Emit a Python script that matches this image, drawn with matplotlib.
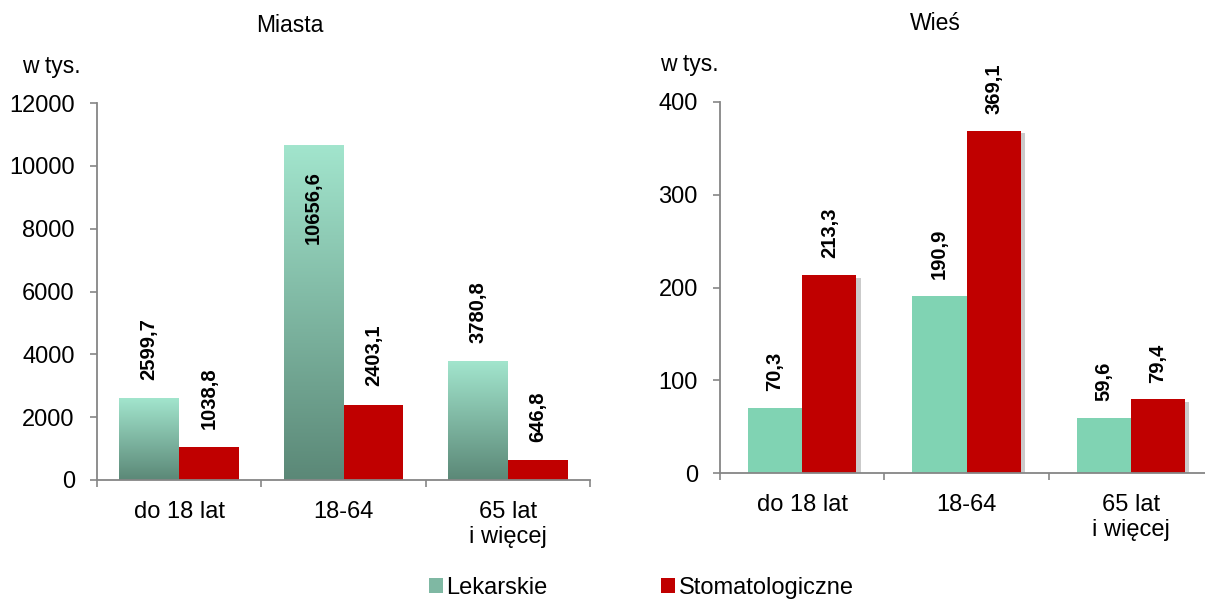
import numpy as np
import matplotlib
matplotlib.use("Agg")
import matplotlib.pyplot as plt
from matplotlib.colors import LinearSegmentedColormap
from matplotlib.patches import Patch
import matplotlib.patheffects as pe

plt.rcParams['font.family'] = ['Liberation Sans', 'DejaVu Sans']

categories = ["do 18 lat", "18-64", "65 lat\ni więcej"]
series_names = ["Lekarskie", "Stomatologiczne"]

# Miasta (w tys.)
miasta_lek = [2599.7, 10656.6, 3780.8]
miasta_stom = [1038.8, 2403.1, 646.8]

# Wieś (w tys.)
wies_lek = [70.3, 190.9, 59.6]
wies_stom = [213.3, 369.1, 79.4]

red = "#c00000"
green_flat = "#80d3b3"
grad_top = "#a2e5cd"
grad_bottom = "#5b8877"
spine_col = "#868686"


def fmt(v):
    return f"{v:.1f}".replace(".", ",")


def style_axes(ax, ymax, yticks):
    ax.set_xlim(-0.5, 2.5)
    ax.set_ylim(0, ymax)
    ax.set_yticks(yticks)
    ax.set_xticks([-0.5, 0.5, 1.5, 2.5])
    ax.set_xticklabels([])
    ax.set_xticks([0, 1, 2], minor=True)
    ax.set_xticklabels(categories, minor=True, fontsize=17)
    ax.tick_params(axis='x', which='minor', length=0, pad=15)
    ax.tick_params(axis='x', which='major', length=5, width=1.2, color=spine_col)
    ax.tick_params(axis='y', length=5, width=1.2, color=spine_col, labelsize=17, pad=11)
    for s in ['top', 'right']:
        ax.spines[s].set_visible(False)
    for s in ['left', 'bottom']:
        ax.spines[s].set_color(spine_col)
        ax.spines[s].set_linewidth(1.3)


fig = plt.figure(figsize=(12.05, 6.01), dpi=100)

# ---- Miasta ----
ax1 = fig.add_axes([97 / 1205, 121 / 601, 493 / 1205, 377 / 601])
w1 = 0.365
x = np.arange(len(categories))
cmap = LinearSegmentedColormap.from_list("gr", [grad_bottom, grad_top])
grad = np.linspace(0, 1, 256).reshape(-1, 1)
for xi, v in zip(x, miasta_lek):
    ax1.imshow(grad, extent=[xi - w1, xi, 0, v], aspect='auto', cmap=cmap,
               origin='lower', zorder=2)
ax1.bar(x + w1 / 2, miasta_stom, width=w1, color=red, zorder=2)
style_axes(ax1, 12000, [0, 2000, 4000, 6000, 8000, 10000, 12000])

for xi, v in zip(x, miasta_lek):
    if v > 8000:
        ax1.annotate(fmt(v), (xi - w1 / 2, v), xytext=(0, -19), textcoords='offset points',
                     rotation=90, ha='center', va='top', fontsize=14.5, fontweight='bold')
    else:
        ax1.annotate(fmt(v), (xi - w1 / 2, v), xytext=(0, 13), textcoords='offset points',
                     rotation=90, ha='center', va='bottom', fontsize=14.5, fontweight='bold')
for xi, v in zip(x, miasta_stom):
    ax1.annotate(fmt(v), (xi + w1 / 2, v), xytext=(0, 13), textcoords='offset points',
                 rotation=90, ha='center', va='bottom', fontsize=14.5, fontweight='bold')

# ---- Wieś ----
ax2 = fig.add_axes([720 / 1205, 128 / 601, 493 / 1205, 371 / 601])
w2 = 0.33
shadow = [pe.SimplePatchShadow(offset=(3, -2), shadow_rgbFace='0.55', alpha=0.45), pe.Normal()]
b1 = ax2.bar(x - w2 / 2, wies_lek, width=w2, color=green_flat, zorder=2)
b2 = ax2.bar(x + w2 / 2, wies_stom, width=w2, color=red, zorder=2)
for p in list(b1) + list(b2):
    p.set_path_effects(shadow)
style_axes(ax2, 400, [0, 100, 200, 300, 400])

for xi, v in zip(x, wies_lek):
    ax2.annotate(fmt(v), (xi - w2 / 2, v), xytext=(0, 12), textcoords='offset points',
                 rotation=90, ha='center', va='bottom', fontsize=14.5, fontweight='bold')
for xi, v in zip(x, wies_stom):
    ax2.annotate(fmt(v), (xi + w2 / 2, v), xytext=(0, 12), textcoords='offset points',
                 rotation=90, ha='center', va='bottom', fontsize=14.5, fontweight='bold')

# titles and units
fig.text(290 / 1205, 1 - 26 / 601, "Miasta", ha='center', va='center', fontsize=16.5)
fig.text(935 / 1205, 1 - 23 / 601, "Wieś", ha='center', va='center', fontsize=16.5)
fig.text(51 / 1205, 1 - 66 / 601, "w tys.", ha='center', va='center', fontsize=16.5)
fig.text(689 / 1205, 1 - 64 / 601, "w tys.", ha='center', va='center', fontsize=16.5)

handles = [Patch(facecolor="#7fb8a3"), Patch(facecolor=red)]
fig.legend(handles, series_names, loc='center', bbox_to_anchor=(641 / 1205, 13 / 601),
           ncol=2, frameon=False, fontsize=17, handlelength=0.6, handleheight=0.6,
           handletextpad=0.15, columnspacing=4.8, borderpad=0)

fig.savefig("out.png", dpi=100)
